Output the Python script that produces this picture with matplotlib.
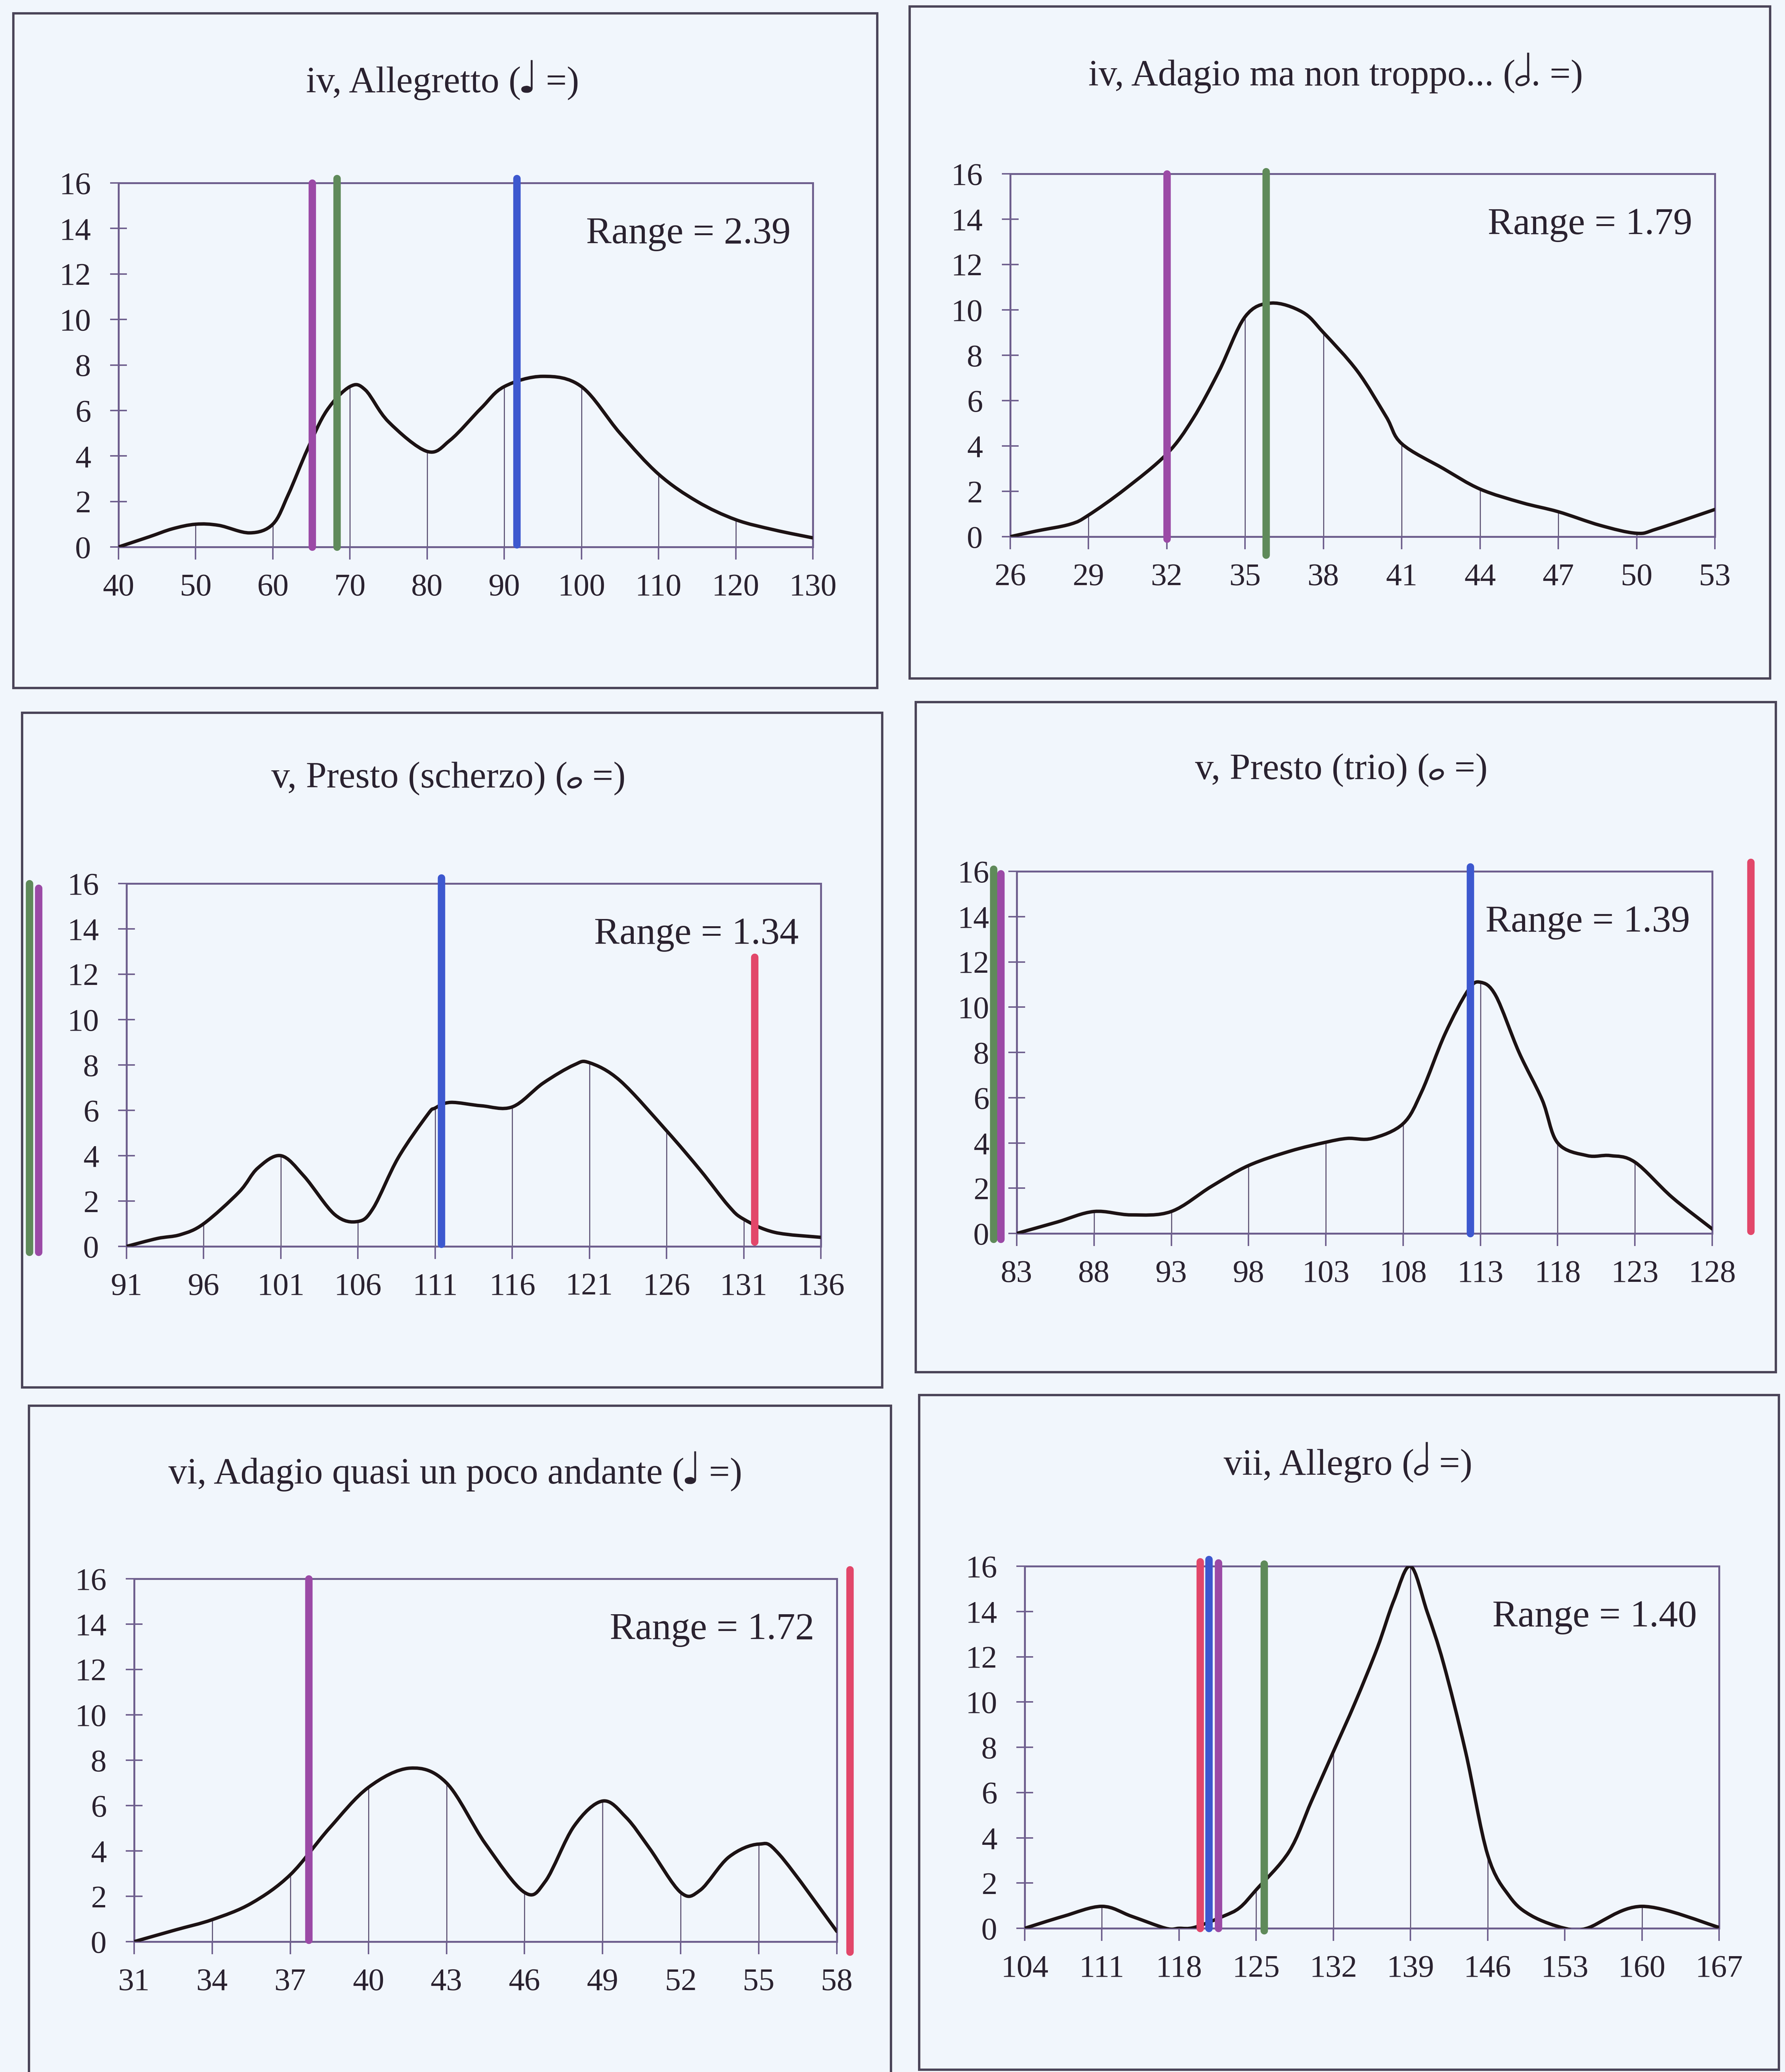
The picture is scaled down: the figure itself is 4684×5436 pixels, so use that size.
import numpy as np
import matplotlib
matplotlib.use("Agg")
import matplotlib.pyplot as plt
from matplotlib.path import Path
from matplotlib.patches import PathPatch, Rectangle, Ellipse
from matplotlib.lines import Line2D
from matplotlib.transforms import blended_transform_factory, IdentityTransform

# =============================
# 1. Data
# =============================

# iv, Allegretto
tl_title = ("iv, Allegretto (", "quarter", " =)")
tl_ticks = [40, 50, 60, 70, 80, 90, 100, 110, 120, 130]
tl_x = [40, 44, 47, 50, 53, 57, 60, 62, 64.5, 67, 70, 72, 75, 80, 83, 87, 90, 95,
        100, 105, 110, 115, 120, 125, 130]
tl_y = [0, 0.45, 0.8, 1.0, 0.95, 0.62, 1.0, 2.3, 4.3, 6.0, 7.05, 6.9, 5.5, 4.2, 4.7,
        6.1, 7.05, 7.5, 7.05, 5.0, 3.2, 2.0, 1.2, 0.75, 0.4]
tl_range = "Range = 2.39"
tl_marks = [(65.1, "purple", 0.0, 16.0), (68.3, "green", 0.0, 16.2),
            (91.6, "blue", 0.1, 16.2)]

# iv, Adagio ma non troppo...
tr_title = ("iv, Adagio ma non troppo... (", "half", ". =)")
tr_ticks = [26, 29, 32, 35, 38, 41, 44, 47, 50, 53]
tr_x = [26, 27, 28.3, 29, 30.4, 32, 33, 34, 35, 36, 37.2, 38, 39.3, 40.4, 41, 42.6,
        44, 45.6, 47, 48.6, 50, 50.8, 53]
tr_y = [0, 0.25, 0.55, 0.95, 2.1, 3.65, 5.2, 7.3, 9.7, 10.3, 9.9, 9.0, 7.3, 5.3,
        4.1, 3.0, 2.1, 1.5, 1.1, 0.5, 0.15, 0.35, 1.2]
tr_range = "Range = 1.79"
tr_marks = [(32.0, "purple", -0.1, 16.0), (35.8, "green", -0.8, 16.1)]

# v, Presto (scherzo)
ml_title = ("v, Presto (scherzo) (", "whole", " =)")
ml_ticks = [91, 96, 101, 106, 111, 116, 121, 126, 131, 136]
ml_x = [91, 93, 94.5, 96, 98.3, 99.5, 101, 102.5, 104.5, 106, 107, 108.6, 110.5, 111,
        112, 114, 116, 118, 120, 121, 123, 126, 128.2, 130, 131, 133, 136]
ml_y = [0, 0.35, 0.52, 1.0, 2.4, 3.45, 4.0, 3.1, 1.4, 1.1, 1.7, 3.9, 5.8, 6.1, 6.35,
        6.2, 6.15, 7.2, 8.0, 8.1, 7.3, 5.1, 3.35, 1.8, 1.2, 0.62, 0.4]
ml_range = "Range = 1.34"
ml_marks = [(84.7, "green", -0.25, 16.0), (85.3, "purple", -0.25, 15.8),
            (111.4, "blue", 0.1, 16.25), (131.7, "red", 0.2, 12.75)]

# v, Presto (trio)
mr_title = ("v, Presto (trio) (", "whole", " =)")
mr_ticks = [83, 88, 93, 98, 103, 108, 113, 118, 123, 128]
mr_x = [83, 85.6, 88, 90.4, 93, 95.6, 98, 100.7, 103, 104.4, 106, 108, 109.2, 110.7,
        112.2, 113, 114, 115.5, 117, 118, 119.9, 121.4, 123, 125.4, 128]
mr_y = [0, 0.5, 0.97, 0.82, 0.97, 2.08, 3.0, 3.64, 4.03, 4.2, 4.2, 4.85, 6.26, 8.8,
        10.74, 11.1, 10.5, 8.0, 5.9, 4.0, 3.44, 3.44, 3.15, 1.6, 0.2]
mr_range = "Range = 1.39"
mr_marks = [(81.5, "green", -0.25, 16.1), (81.97, "purple", -0.25, 15.9),
            (112.35, "blue", 0.0, 16.2), (130.5, "red", 0.1, 16.4)]

# vi, Adagio quasi un poco andante
bl_title = ("vi, Adagio quasi un poco andante (", "quarter", " =)")
bl_ticks = [31, 34, 37, 40, 43, 46, 49, 52, 55, 58]
bl_x = [31, 32.6, 34, 35.5, 37, 38.5, 40, 41.6, 43, 44.5, 46, 46.8, 47.9, 49,
        49.9, 50.8, 52, 52.75, 53.85, 55, 55.8, 58]
bl_y = [0, 0.52, 0.97, 1.69, 2.95, 5.0, 6.8, 7.65, 7.0, 4.31, 2.17, 2.66,
        5.09, 6.2, 5.48, 4.12, 2.17, 2.27, 3.73, 4.3, 3.83, 0.45]
bl_range = "Range = 1.72"
bl_marks = [(37.7, "purple", 0.07, 16.0), (58.5, "red", -0.45, 16.4)]

# vii, Allegro
br_title = ("vii, Allegro (", "half", " =)")
br_ticks = [104, 111, 118, 125, 132, 139, 146, 153, 160, 167]
br_x = [104, 107.5, 111, 113.7, 116.8, 118, 119.4, 122, 123.5, 125, 128, 130, 132,
        134, 136, 137.5, 139, 140.5, 142, 144, 146, 148, 150, 153, 155, 160, 167]
br_y = [0, 0.53, 0.97, 0.53, 0, 0, 0.04, 0.53, 0.91, 1.7, 3.4, 5.6, 7.8, 10.0,
        12.4, 14.5, 16, 14.0, 11.7, 7.8, 3.25, 1.4, 0.55, 0, 0, 0.97, 0.04]
br_range = "Range = 1.40"
br_marks = [(119.9, "red", 0.0, 16.2), (120.7, "blue", 0.0, 16.3),
            (121.55, "purple", 0.0, 16.15), (125.7, "green", -0.1, 16.1)]

y_ticks = [0, 2, 4, 6, 8, 10, 12, 14, 16]

# =============================
# 2. Style / layout
# =============================

W, H = 4684, 5436
DPI = 200
BG = "#f1f6fc"
SPINE = "#6e5f8e"
DROP = "#5c5274"
CURVE = "#1c1214"
TEXT = "#2a2230"
FRAME = "#4a4458"
MARK_COLORS = {"purple": "#9b4aa6", "green": "#5f8a5a",
               "blue": "#3d58cf", "red": "#e2476a"}
TITLE_FS = 35
RANGE_FS = 36
TICK_FS = 30

plt.rcParams["font.family"] = ["Liberation Serif", "DejaVu Sans"]

# (axes box in pixels: left, top, right, bottom), (panel frame in pixels), title centre
panels = [
    (tl_title, tl_ticks, tl_x, tl_y, tl_range, tl_marks,
     (311, 480, 2133, 1435), (35, 35, 2302, 1805), (1161, 218)),
    (tr_title, tr_ticks, tr_x, tr_y, tr_range, tr_marks,
     (2651, 456, 4500, 1408), (2387, 17, 4645, 1780), (3505, 200)),
    (ml_title, ml_ticks, ml_x, ml_y, ml_range, ml_marks,
     (332, 2318, 2154, 3270), (58, 1870, 2315, 3640), (1177, 2042)),
    (mr_title, mr_ticks, mr_x, mr_y, mr_range, mr_marks,
     (2668, 2286, 4493, 3236), (2403, 1842, 4660, 3600), (3520, 2020)),
    (bl_title, bl_ticks, bl_x, bl_y, bl_range, bl_marks,
     (352, 4142, 2196, 5094), (76, 3688, 2338, 5470), (1195, 3868)),
    (br_title, br_ticks, br_x, br_y, br_range, br_marks,
     (2689, 4109, 4511, 5059), (2412, 3660, 4668, 5430), (3537, 3845)),
]


def smooth_patch(xs, ys):
    # Excel-style smoothed line: Catmull-Rom segments drawn as cubic Bezier curves
    pts = np.column_stack([xs, ys]).astype(float)
    pad = np.vstack([pts[0], pts, pts[-1]])
    verts = [pts[0]]
    codes = [Path.MOVETO]
    for i in range(len(pts) - 1):
        p0, p1, p2, p3 = pad[i], pad[i + 1], pad[i + 2], pad[i + 3]
        verts += [p1 + (p2 - p0) / 6.0, p2 - (p3 - p1) / 6.0, p2]
        codes += [Path.CURVE4] * 3
    return PathPatch(Path(verts, codes), fill=False, edgecolor=CURVE,
                     lw=3.2, capstyle="round", joinstyle="round", zorder=3)


def draw_note(fig, x, base, kind, em):
    # half / whole note have no glyph in the installed fonts: draw them
    idt = IdentityTransform()
    if kind == "quarter":
        fig.text(x / W, base / H, "\u2669", fontsize=TITLE_FS * 1.2, color=TEXT,
                 ha="center", va="baseline", family=["DejaVu Sans"])
        return
    hw, hh = 0.34 * em, 0.22 * em
    hy = base + 0.13 * em
    fig.patches.append(Ellipse((x, hy), hw, hh, angle=22, transform=idt,
                               fill=False, edgecolor=TEXT,
                               lw=2.4 if kind == "whole" else 2.0))
    if kind == "half":
        sx = x + hw * 0.44
        fig.lines.append(Line2D([sx, sx], [hy + hh * 0.1, base + 0.86 * em],
                                transform=idt, color=TEXT, lw=2.0))


def title_with_note(fig, cx, cy, parts, fs):
    before, kind, after = parts
    em = fs * DPI / 72.0
    r = fig.canvas.get_renderer()
    t1 = fig.text(0, 0, before, fontsize=fs, color=TEXT, ha="left", va="baseline")
    t2 = fig.text(0, 0, after, fontsize=fs, color=TEXT, ha="left", va="baseline")
    w1 = t1.get_window_extent(r).width
    w2 = t2.get_window_extent(r).width
    slot = 0.42 * em
    x0 = cx - (w1 + slot + w2) / 2.0
    base = (H - cy) - 0.25 * em
    t1.set_position((x0 / W, base / H))
    t2.set_position(((x0 + w1 + slot) / W, base / H))
    draw_note(fig, x0 + w1 + slot * 0.45, base, kind, em)


# =============================
# 3. Plotting
# =============================

fig = plt.figure(figsize=(W / DPI, H / DPI), dpi=DPI, facecolor=BG)

for title, ticks, xs, ys, rng, marks, box, frame, tpos in panels:
    # panel frame
    fx0, fy0, fx1, fy1 = frame
    fig.patches.append(Rectangle((fx0 / W, 1 - fy1 / H), (fx1 - fx0) / W, (fy1 - fy0) / H,
                                 transform=fig.transFigure, fill=False,
                                 edgecolor=FRAME, lw=2.2, zorder=0))
    title_with_note(fig, tpos[0], tpos[1], title, TITLE_FS)

    l, t, r, b = box
    ax = fig.add_axes([l / W, 1 - b / H, (r - l) / W, (b - t) / H])
    ax.set_facecolor("none")
    ax.set_xlim(ticks[0], ticks[-1])
    ax.set_ylim(0, 16)

    # drop lines at the labelled categories
    drop_x = [v for v in ticks[1:-1] if v in xs]
    drop_y = [ys[xs.index(v)] for v in drop_x]
    ax.vlines(drop_x, 0, drop_y, color=DROP, lw=1.0, zorder=2)

    ax.add_patch(smooth_patch(xs, ys))

    for mx, mc, y0, y1 in marks:
        ax.plot([mx, mx], [y0, y1], color=MARK_COLORS[mc], lw=7,
                solid_capstyle="round", clip_on=False, zorder=4)

    trans = blended_transform_factory(ax.transAxes, ax.transData)
    ax.text(0.968, 13.75, rng, transform=trans, ha="right", va="center",
            fontsize=RANGE_FS, color=TEXT, zorder=5)

    ax.set_xticks(ticks)
    ax.set_yticks(y_ticks)
    ax.tick_params(axis="x", direction="out", length=12, width=1.4, color=SPINE,
                   pad=13, labelsize=TICK_FS, labelcolor=TEXT)
    ax.tick_params(axis="y", direction="inout", length=16, width=1.4, color=SPINE,
                   pad=18, labelsize=TICK_FS, labelcolor=TEXT)
    for s in ax.spines.values():
        s.set_color(SPINE)
        s.set_linewidth(1.8)

fig.savefig("out.png", dpi=DPI, facecolor=BG)
